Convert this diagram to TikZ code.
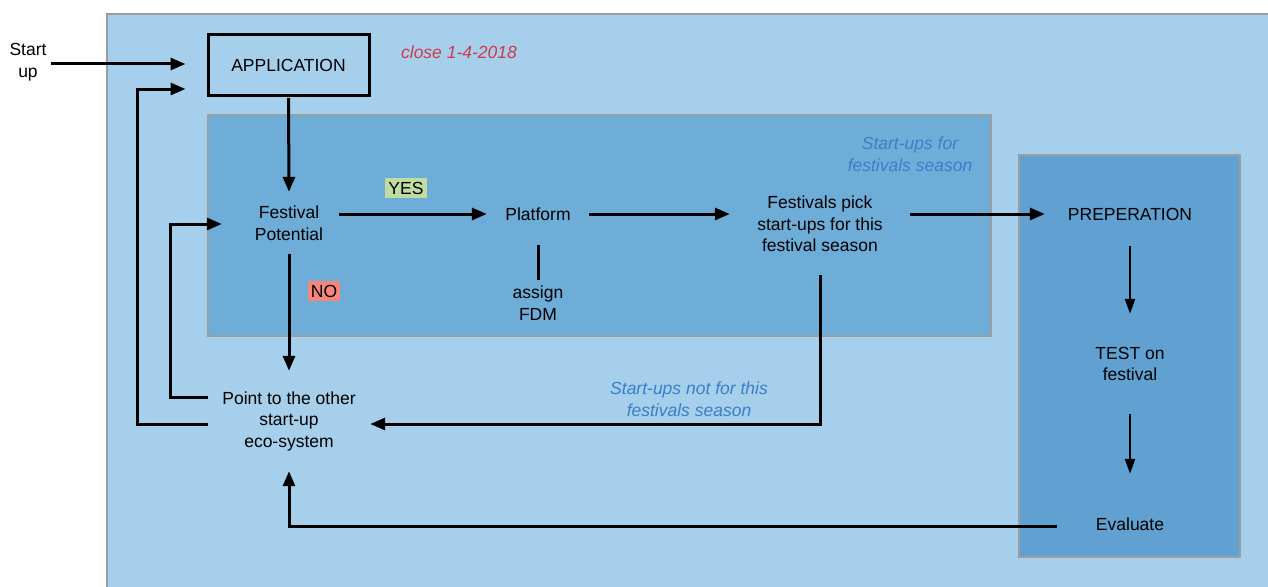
\documentclass[tikz,border=0pt]{standalone}
\usepackage{fontspec}
\setmainfont{Liberation Sans}
\usetikzlibrary{arrows.meta,calc}
\definecolor{bgout}{HTML}{A5CFEA}
\definecolor{bgin}{HTML}{6FADD9}
\definecolor{bgright}{HTML}{60A1D1}
\definecolor{edgegray}{HTML}{9A9EA2}
\definecolor{bluetxt}{HTML}{3A7FC8}
\definecolor{redtxt}{HTML}{D3384B}
\definecolor{yesgreen}{HTML}{BFDDA0}
\definecolor{nored}{HTML}{F3877A}
\tikzset{
  txt/.style={align=center,font=\fontsize{17.5}{21.5}\selectfont,inner sep=0pt},
  conn/.style={line width=3pt,-{Triangle[length=15pt,width=12pt]}},
  plainconn/.style={line width=3pt},
  thinconn/.style={line width=2.3pt,-{Triangle[length=15pt,width=10pt]}},
  zone/.style={draw=edgegray,line width=1.2pt},
  tag/.style={font=\fontsize{17.5}{20}\selectfont,inner xsep=3pt,inner ysep=4pt},
  note/.style={align=center,font=\fontsize{17.5}{21.5}\selectfont\itshape,inner sep=0pt}
}
\begin{document}
\begin{tikzpicture}[x=1pt,y=-1pt]
\useasboundingbox (0,0) rectangle (1268,586);
\fill[white] (0,0) rectangle (1268,586);
% zones
\draw[zone,fill=bgout] (107,14) rectangle (1275,593);
\draw[zone,fill=bgin] (208,115) rectangle (991,336);
\draw[zone,fill=bgright] (1019,155) rectangle (1240,557);
% notes
\node[note,text=redtxt] (close) at (459,52) {close 1-4-2018};
\node[note,text=bluetxt] (zone1) at (910,154) {Start-ups for\\festivals season};
\node[note,text=bluetxt] (notfor) at (689,399) {Start-ups not for this\\festivals season};
% nodes
\node[txt] (start) at (28,62) {Start\\up};
\node[txt,draw,line width=3pt,minimum width=161pt,minimum height=60pt] (app) at (288.5,65) {APPLICATION};
\node[txt,minimum width=100pt,minimum height=62pt] (fp) at (289,223) {Festival\\Potential};
\node[txt,minimum width=102pt,minimum height=62pt] (plat) at (538,214) {Platform};
\node[txt,minimum height=46pt] (assign) at (538,303) {assign\\FDM};
\node[txt,minimum width=180pt,minimum height=102pt] (pick) at (820,224) {Festivals pick\\start-ups for this\\festival season};
\node[txt,minimum width=170pt,minimum height=64pt] (prep) at (1130,214) {PREPERATION};
\node[txt,minimum width=140pt,minimum height=100pt] (test) at (1130,364) {TEST on\\festival};
\node[txt,minimum width=146pt,minimum height=100pt] (eval) at (1130,524) {Evaluate};
\node[txt,minimum width=162pt,minimum height=100pt] (pt) at (289,421) {Point to the other\\start-up\\eco-system};
\node[tag,fill=yesgreen] (yes) at (406,188) {YES};
\node[tag,fill=nored] (no) at (324,291) {NO};
% bend points
\coordinate (b1) at (170,397);
\coordinate (b2) at (137,424);
% connectors
\draw[conn] (start.east) ++(4,2) -- ([xshift=-21pt,yshift=1pt]app.west);
\draw[conn] ([yshift=-3pt]pt.west) -- (b2) |- ([xshift=-21pt,yshift=-24pt]app.west);
\draw[conn] ([yshift=-1.5pt]app.south) -- (fp.north);
\draw[conn] ([yshift=24pt]pt.west) -- (b1) |- ([xshift=-17pt,yshift=-1pt]fp.west);
\draw[conn] ([yshift=9pt]fp.east) -- ([yshift=9pt]fp.east -| plat.west);
\draw[plainconn] (plat.south) -- (assign.north);
\draw[conn] (plat.east) -- (plat.east -| pick.west);
\draw[conn] (prep.west -| pick.east) -- (prep.west);
\draw[thinconn] (prep.south) -- (test.north);
\draw[thinconn] (test.south) -- (eval.north);
\draw[conn] (fp.south) -- (pt.north);
\draw[conn] (pick.south) |- ([yshift=-3pt]pt.east);
\draw[conn] ([yshift=-2pt]eval.west) -| (pt.south);
\end{tikzpicture}
\end{document}
